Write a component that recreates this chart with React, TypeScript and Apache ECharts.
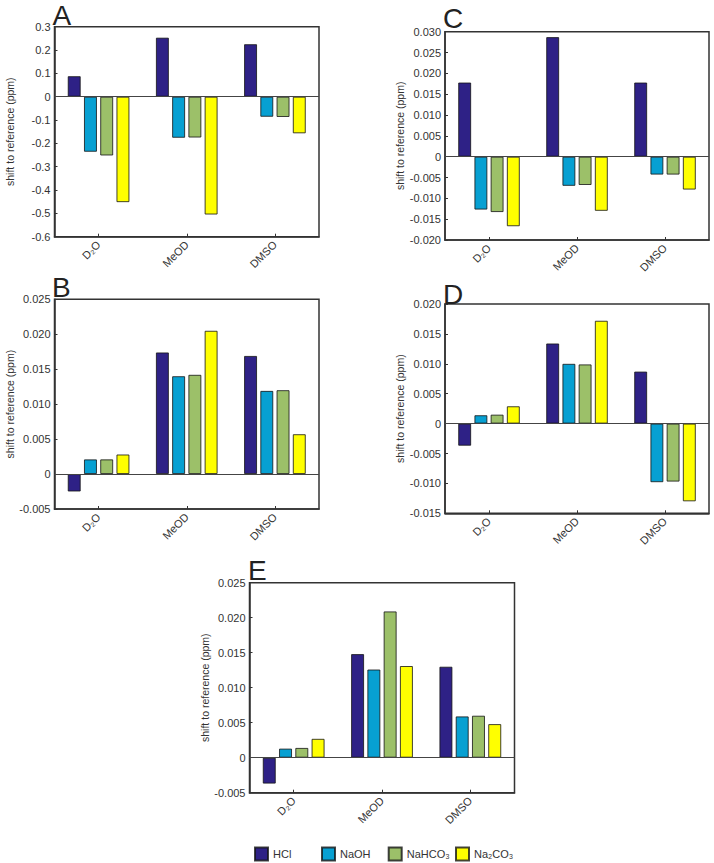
import React, { useEffect, useRef } from "react";
import * as echarts from "echarts";

const categories = ["D₂O", "MeOD", "DMSO"];
const seriesNames = ["HCl", "NaOH", "NaHCO₃", "Na₂CO₃"];
const colors = ["#2e2186", "#07a0d2", "#9cc069", "#ffff00"];

// Panel A
const aHCl = [0.088, 0.253, 0.225];
const aNaOH = [-0.236, -0.176, -0.086];
const aNaHCO3 = [-0.252, -0.175, -0.087];
const aNa2CO3 = [-0.452, -0.505, -0.157];
const aRange = [-0.6, 0.3, 0.1];

// Panel B
const bHCl = [-0.0025, 0.0174, 0.0169];
const bNaOH = [0.0021, 0.014, 0.0119];
const bNaHCO3 = [0.0021, 0.0142, 0.012];
const bNa2CO3 = [0.0028, 0.0205, 0.0057];
const bRange = [-0.005, 0.025, 0.005];

// Panel C
const cHCl = [0.0178, 0.0287, 0.0178];
const cNaOH = [-0.0127, -0.007, -0.0043];
const cNaHCO3 = [-0.0133, -0.0068, -0.0043];
const cNa2CO3 = [-0.0167, -0.013, -0.0079];
const cRange = [-0.02, 0.03, 0.005];

// Panel D
const dHCl = [-0.0037, 0.0134, 0.0087];
const dNaOH = [0.0014, 0.01, -0.0098];
const dNaHCO3 = [0.0015, 0.0099, -0.0097];
const dNa2CO3 = [0.0029, 0.0172, -0.013];
const dRange = [-0.015, 0.02, 0.005];

// Panel E
const eHCl = [-0.0037, 0.0148, 0.013];
const eNaOH = [0.0013, 0.0126, 0.0059];
const eNaHCO3 = [0.0014, 0.0209, 0.006];
const eNa2CO3 = [0.0027, 0.0131, 0.0048];
const eRange = [-0.005, 0.025, 0.005];

const panelLetters = ["A", "B", "C", "D", "E"];
const yAxisName = "shift to reference (ppm)";

const FONT = "'Liberation Sans', Arial, Helvetica, sans-serif";

export default function App() {
  const ref = useRef<HTMLDivElement>(null);

  useEffect(() => {
    if (!ref.current) return;
    const chart = echarts.init(ref.current, undefined, { renderer: "svg" });

    const panels = [
      { data: [aHCl, aNaOH, aNaHCO3, aNa2CO3], range: aRange, dec: 1, grid: { left: 54.5, top: 26.7, width: 264.5, height: 210 }, letter: { x: 52.5, y: 15 } },
      { data: [bHCl, bNaOH, bNaHCO3, bNa2CO3], range: bRange, dec: 3, grid: { left: 54.5, top: 299.3, width: 264.5, height: 209.7 }, letter: { x: 52, y: 287 } },
      { data: [cHCl, cNaOH, cNaHCO3, cNa2CO3], range: cRange, dec: 3, grid: { left: 445, top: 31.7, width: 264, height: 208.3 }, letter: { x: 443, y: 18.5 } },
      { data: [dHCl, dNaOH, dNaHCO3, dNa2CO3], range: dRange, dec: 3, grid: { left: 445, top: 304, width: 264, height: 209.3 }, letter: { x: 443, y: 294 } },
      { data: [eHCl, eNaOH, eNaHCO3, eNa2CO3], range: eRange, dec: 3, grid: { left: 249.5, top: 582.7, width: 265, height: 210 }, letter: { x: 248, y: 570 } },
    ];

    const grids: any[] = [];
    const xAxes: any[] = [];
    const yAxes: any[] = [];
    const series: any[] = [];
    const graphics: any[] = [];

    panels.forEach((p, pi) => {
      grids.push({
        ...p.grid,
        show: true,
        borderColor: "#333",
        borderWidth: 1.5,
        backgroundColor: "transparent",
      });
      xAxes.push({
        type: "category",
        gridIndex: pi,
        data: categories,
        axisLine: { show: true, onZero: false, lineStyle: { color: "#333", width: 1.5 } },
        axisTick: { show: true, inside: true, alignWithLabel: true, length: 3, lineStyle: { color: "#333" } },
        axisLabel: { rotate: 45, fontSize: 11, color: "#333", fontFamily: FONT, margin: 6 },
        splitLine: { show: false },
      });
      yAxes.push({
        type: "value",
        gridIndex: pi,
        min: p.range[0],
        max: p.range[1],
        interval: p.range[2],
        name: yAxisName,
        nameLocation: "middle",
        nameGap: 39,
        nameTextStyle: { fontSize: 10.5, color: "#333", fontFamily: FONT },
        axisLine: { show: true, lineStyle: { color: "#333", width: 1.5 } },
        axisTick: { show: true, inside: true, length: 3, lineStyle: { color: "#333" } },
        axisLabel: {
          fontSize: 11,
          color: "#333",
          fontFamily: FONT,
          margin: 4,
          formatter: (v: number) => (Math.abs(v) < 1e-12 ? "0" : v.toFixed(p.dec)),
        },
        splitLine: { show: false },
      });
      p.data.forEach((vals, si) => {
        const s: any = {
          type: "bar",
          name: seriesNames[si],
          xAxisIndex: pi,
          yAxisIndex: pi,
          data: vals,
          barCategoryGap: "30%",
          barGap: "25%",
          itemStyle: { color: colors[si], borderColor: "rgba(20,20,20,0.8)", borderWidth: 1 },
          emphasis: { disabled: true },
        };
        if (si === 0) {
          s.markLine = {
            silent: true,
            symbol: ["none", "none"],
            label: { show: false },
            lineStyle: { color: "#444", width: 1.2, type: "solid" },
            data: [{ yAxis: 0 }],
          };
        }
        series.push(s);
      });
      graphics.push({
        type: "text",
        x: p.letter.x,
        y: p.letter.y,
        style: {
          text: panelLetters[pi],
          fontSize: 28,
          fontFamily: FONT,
          fill: "#222",
          align: "left",
          verticalAlign: "middle",
        },
      });
    });

    const legendLefts = [254, 321, 387.7, 455];
    const legends = seriesNames.map((n, i) => ({
      data: [n],
      left: legendLefts[i],
      top: 846.5,
      padding: 0,
      itemGap: 0,
      itemWidth: 13,
      itemHeight: 13,
      icon: "rect",
      selectedMode: false,
      textStyle: { fontSize: 11, color: "#333", fontFamily: FONT },
    }));

    chart.setOption({
      animation: false,
      backgroundColor: "#ffffff",
      textStyle: { fontFamily: FONT },
      grid: grids,
      xAxis: xAxes,
      yAxis: yAxes,
      series,
      legend: legends,
      graphic: graphics,
    });

    return () => {
      chart.dispose();
    };
  }, []);

  return (
    <div
      ref={ref}
      style={{ position: "absolute", left: 0, top: 0, width: 714, height: 863 }}
    />
  );
}
